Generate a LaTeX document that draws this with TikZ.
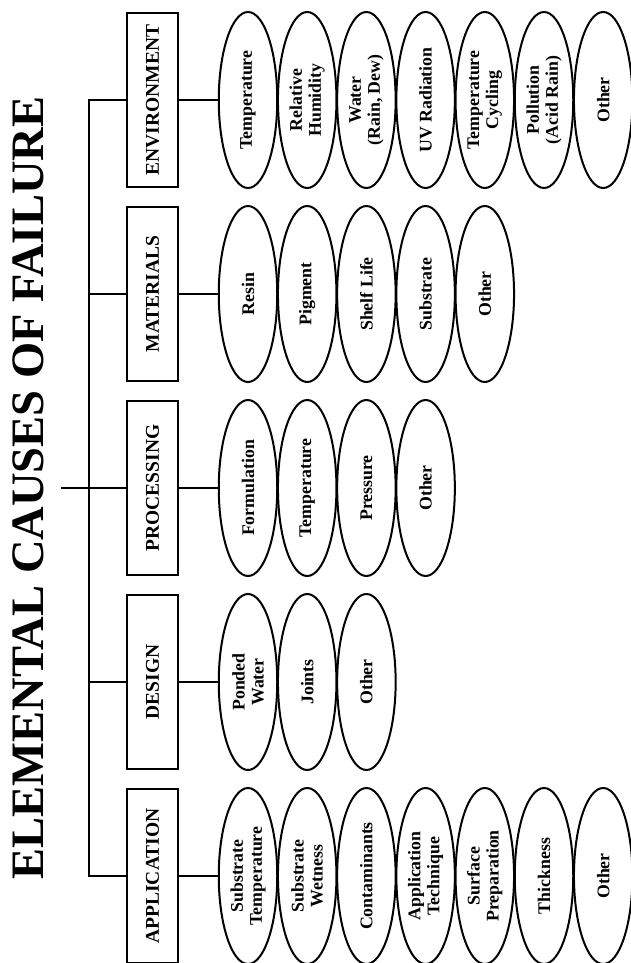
\documentclass[tikz,border=0pt]{standalone}
\usepackage{fontspec}
\setmainfont{Liberation Serif}
\usetikzlibrary{shapes.geometric}

% one row of cause ellipses: #1 name prefix, #2 centre line, #3 labels
\newcommand\causerow[3]{%
  \foreach \lab [count=\i from 0] in {#3}{%
    \node[cause] (#1\i) at ({248+59.2*\i},#2) {\lab};
  }%
}

\begin{document}
\begin{tikzpicture}[x=1pt,y=-1pt,
  line width=2pt,
  heading/.style={font=\bfseries\fontsize{46.5}{50}\selectfont,
    rotate=90, inner sep=0pt, anchor=base},
  catbox/.style={draw, rectangle, rotate=90, minimum width=174pt,
    minimum height=51pt, inner sep=0pt,
    font=\bfseries\fontsize{19.5}{22}\selectfont},
  cause/.style={draw, ellipse, rotate=90, minimum width=176pt,
    minimum height=58.5pt, inner sep=0pt, align=center,
    font=\bfseries\fontsize{17.8}{19}\selectfont},
]
\useasboundingbox (0,0) rectangle (631,963);

% title
\node[heading] (title) at (43,488) {ELEMENTAL CAUSES OF FAILURE};

% category boxes
\node[catbox] (env)  at (152.5,100) {ENVIRONMENT};
\node[catbox] (mat)  at (152.5,294) {MATERIALS};
\node[catbox] (proc) at (152.5,488) {PROCESSING};
\node[catbox] (des)  at (152.5,682) {DESIGN};
\node[catbox] (app)  at (152.5,876) {APPLICATION};

% causes
\causerow{e}{100}{Temperature, Relative\\Humidity, {Water\\(Rain, Dew)},
  UV Radiation, Temperature\\Cycling, Pollution\\(Acid Rain), Other}
\causerow{m}{294}{Resin, Pigment, Shelf Life, Substrate, Other}
\causerow{p}{488}{Formulation, Temperature, Pressure, Other}
\causerow{d}{682}{Ponded\\Water, Joints, Other}
\causerow{a}{876}{Substrate\\Temperature, Substrate\\Wetness, Contaminants,
  Application\\Technique, Surface\\Preparation, Thickness, Other}

% tree connectors
\coordinate (stem) at (61,488);
\coordinate (hub) at (89,488);
\draw (stem) -- (hub);
\foreach \b in {env,mat,proc,des,app}
  \draw (hub) |- (\b.north);

\draw (env.south)  -- (e0.north);
\draw (mat.south)  -- (m0.north);
\draw (proc.south) -- (p0.north);
\draw (des.south)  -- (d0.north);
\draw (app.south)  -- (a0.north);
\end{tikzpicture}
\end{document}
